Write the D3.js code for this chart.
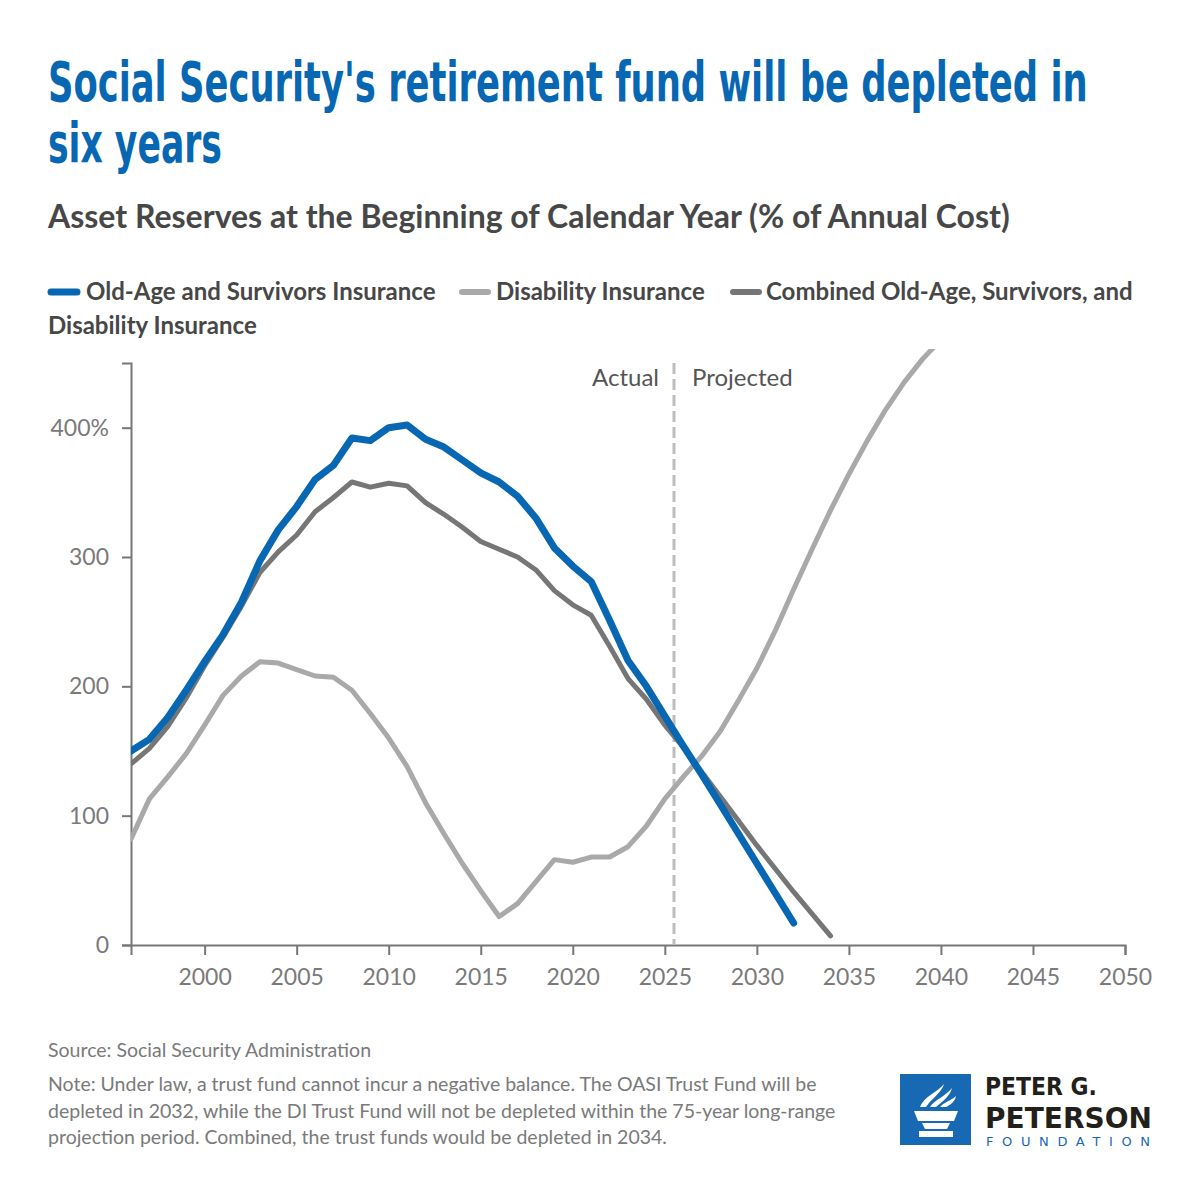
<!DOCTYPE html>
<html>
<head>
<meta charset="utf-8">
<script src="https://cdn.jsdelivr.net/npm/d3@7"></script>
<style>
  body { margin: 0; background: #fff; }
  svg { display: block; }
</style>
</head>
<body>
<div id="chart"></div>
<script>
// Social Security trust fund reserves (% of annual cost)
const oasiYears = d3.range(1996, 2033);
const oasiValues = [150, 159, 176, 197, 219, 240, 265, 297, 321, 339,
  360, 371, 392, 390, 400, 402, 391, 385, 375, 365,
  358, 347, 330, 307, 293, 281, 251, 220, 200, 177,
  154, 132, 109, 86, 63, 40, 17];

const diYears = d3.range(1996, 2041);
const diValues = [82, 113, 130, 148, 170, 193, 208, 219, 218, 213,
  208, 207, 197, 179, 160, 138, 110, 86, 63, 42,
  22, 32, 49, 66, 64, 68, 68, 76, 92, 113,
  130, 146, 165, 189, 214, 243, 275, 306, 336, 364,
  390, 414, 435, 453, 468];

const combYears = d3.range(1996, 2035);
const combValues = [140, 152, 169, 191, 216, 238, 262, 288, 304, 317,
  335, 346, 358, 354, 357, 355, 342, 333, 323, 312,
  306, 300, 290, 274, 263, 255, 231, 206, 190, 170,
  153, 134, 115, 96, 77, 59, 41, 24, 7];

const xTicks = [2000, 2005, 2010, 2015, 2020, 2025, 2030, 2035, 2040, 2045, 2050];
const yTicks = [0, 100, 200, 300, 400];
const splitYear = 2025.5;

const legendNames = ["Old-Age and Survivors Insurance", "Disability Insurance",
  "Combined Old-Age, Survivors, and", "Disability Insurance"];

// colours
const blue = "#0767b2", diGray = "#a9a9a9", combGray = "#767676";

const W = 1200, H = 1200;
const svg = d3.select("#chart").append("svg")
    .attr("width", W)
    .attr("height", H)
    .style("font-family", "Lato, 'Noto Sans', sans-serif");

// squeeze a text horizontally to a given width (condensed look)
function fitWidth(sel, x, width) {
  const natural = sel.node().getComputedTextLength();
  const k = width / natural;
  sel.attr("x", 0)
     .attr("transform", `translate(${x},0) scale(${k},1)`);
}

// Title
const titleFont = "'DejaVu Sans Condensed', 'DejaVu Sans', 'Noto Sans', sans-serif";
const title1 = svg.append("text")
    .attr("y", 101)
    .attr("fill", blue)
    .style("font-family", titleFont)
    .style("font-weight", "bold")
    .style("font-size", "55px")
    .text("Social Security's retirement fund will be depleted in");
fitWidth(title1, 48, 1040);
const title2 = svg.append("text")
    .attr("y", 162)
    .attr("fill", blue)
    .style("font-family", titleFont)
    .style("font-weight", "bold")
    .style("font-size", "55px")
    .text("six years");
fitWidth(title2, 48, 174);

// Subtitle
svg.append("text")
    .attr("x", 48).attr("y", 228)
    .attr("fill", "#474747")
    .style("font-weight", "bold")
    .style("font-size", "32px")
    .text("Asset Reserves at the Beginning of Calendar Year (% of Annual Cost)");

// Legend
const legend = svg.append("g")
    .style("font-weight", "bold")
    .style("font-size", "24px")
    .attr("fill", "#474747");
const legendItems = [
  {sx: 51, tx: 86, color: blue, w: 7, name: legendNames[0]},
  {sx: 462, tx: 496, color: diGray, w: 6, name: legendNames[1]},
  {sx: 733, tx: 766, color: combGray, w: 6, name: legendNames[2]}
];
legendItems.forEach(d => {
  legend.append("line")
      .attr("x1", d.sx).attr("x2", d.sx + 26)
      .attr("y1", 292).attr("y2", 292)
      .attr("stroke", d.color)
      .attr("stroke-width", d.w)
      .attr("stroke-linecap", "round");
  legend.append("text")
      .attr("x", d.tx).attr("y", 300)
      .text(d.name);
});
legend.append("text")
    .attr("x", 48).attr("y", 334)
    .text(legendNames[3]);

// Plot area
const margin = {top: 363, left: 131, right: 75, bottom: 255};
const x = d3.scaleLinear()
    .domain([1996, 2050])
    .range([margin.left, W - margin.right]);
const y = d3.scaleLinear()
    .domain([0, 450])
    .range([H - margin.bottom, margin.top]);

const axisColor = "#777";

// y axis
const yAxis = svg.append("g")
    .attr("transform", `translate(${margin.left},0)`)
    .call(d3.axisLeft(y).tickValues(yTicks).tickSize(9).tickPadding(13)
        .tickFormat(d => d === 400 ? d + "%" : d));
// x axis
const xAxis = svg.append("g")
    .attr("transform", `translate(0,${y(0)})`)
    .call(d3.axisBottom(x).tickValues(xTicks).tickSize(10).tickPadding(14)
        .tickFormat(d3.format("d")));

[yAxis, xAxis].forEach(a => {
  a.select(".domain").attr("stroke", axisColor).attr("stroke-width", 2);
  a.selectAll(".tick line").attr("stroke", axisColor).attr("stroke-width", 2);
  a.selectAll(".tick text")
      .attr("fill", "#7a7a7a")
      .style("font-family", "Lato, 'Noto Sans', sans-serif")
      .style("font-size", "23px");
});

// Actual / Projected divider
svg.append("line")
    .attr("x1", x(splitYear)).attr("x2", x(splitYear))
    .attr("y1", margin.top).attr("y2", y(0))
    .attr("stroke", "#bdbdbd")
    .attr("stroke-width", 3)
    .attr("stroke-dasharray", "11,5");
svg.append("text")
    .attr("x", x(splitYear) - 15).attr("y", 386)
    .attr("text-anchor", "end")
    .attr("fill", "#555")
    .style("font-size", "24px")
    .text("Actual");
svg.append("text")
    .attr("x", x(splitYear) + 18).attr("y", 386)
    .attr("fill", "#555")
    .style("font-size", "24px")
    .text("Projected");

// clip so the DI line is cut off at the top like the original
svg.append("clipPath").attr("id", "plot-clip")
  .append("rect")
    .attr("x", margin.left).attr("y", 349)
    .attr("width", W - margin.right - margin.left)
    .attr("height", y(0) - 349 + 10);

const line = d3.line()
    .x(d => x(d[0]))
    .y(d => y(d[1]));

const series = [
  {years: diYears, values: diValues, color: diGray, w: 5},
  {years: combYears, values: combValues, color: combGray, w: 5},
  {years: oasiYears, values: oasiValues, color: blue, w: 7}
];

svg.append("g")
    .attr("clip-path", "url(#plot-clip)")
  .selectAll("path")
  .data(series)
  .join("path")
    .attr("d", d => line(d.years.map((yr, i) => [yr, d.values[i]])))
    .attr("fill", "none")
    .attr("stroke", d => d.color)
    .attr("stroke-width", d => d.w)
    .attr("stroke-linejoin", "round")
    .attr("stroke-linecap", "round");

// Footer
const foot = svg.append("g")
    .attr("fill", "#7a7a7a")
    .style("font-size", "19.5px");
foot.append("text").attr("x", 48).attr("y", 1057)
    .text("Source: Social Security Administration");
const noteLines = [
  "Note: Under law, a trust fund cannot incur a negative balance. The OASI Trust Fund will be",
  "depleted in 2032, while the DI Trust Fund will not be depleted within the 75-year long-range",
  "projection period. Combined, the trust funds would be depleted in 2034."
];
foot.selectAll(".note")
  .data(noteLines)
  .join("text")
    .attr("class", "note")
    .attr("x", 48)
    .attr("y", (d, i) => 1091 + i * 26.5)
    .text(d => d);

// Logo
const logo = svg.append("g").attr("transform", "translate(900,1074)");
logo.append("rect")
    .attr("width", 71).attr("height", 71)
    .attr("fill", "#1769b4");
// torch: bowl, stem, base
logo.append("path")
    .attr("d", "M14,37 L58,37 L54,47 L18,47 Z M22,49 L50,49 L47,55 L25,55 Z M19,57 L53,57 L53,63 L19,63 Z")
    .attr("fill", "#fff");
// flames
logo.append("path")
    .attr("d", "M20,33 C24,22 38,18 44,10 C42,18 32,24 26,33 Z M30,33 C34,26 46,22 52,14 C50,22 42,28 36,33 Z M40,33 C44,28 52,26 56,22 C55,28 50,31 46,33 Z")
    .attr("fill", "#fff");

const logoFont = "'DejaVu Sans Condensed', 'DejaVu Sans', sans-serif";
const logo1 = svg.append("text")
    .attr("y", 1095)
    .attr("fill", "#231f1a")
    .style("font-family", logoFont)
    .style("font-weight", "bold")
    .style("font-size", "25px")
    .text("PETER G.");
fitWidth(logo1, 985, 112);
const logo2 = svg.append("text")
    .attr("y", 1128)
    .attr("fill", "#231f1a")
    .style("font-family", logoFont)
    .style("font-weight", "bold")
    .style("font-size", "29px")
    .text("PETERSON");
fitWidth(logo2, 985, 167);
svg.append("text")
    .attr("x", 986).attr("y", 1146)
    .attr("fill", "#1769b4")
    .style("font-family", "'DejaVu Sans', sans-serif")
    .style("font-size", "13px")
    .attr("textLength", 164)
    .attr("lengthAdjust", "spacing")
    .text("FOUNDATION");
</script>
</body>
</html>
